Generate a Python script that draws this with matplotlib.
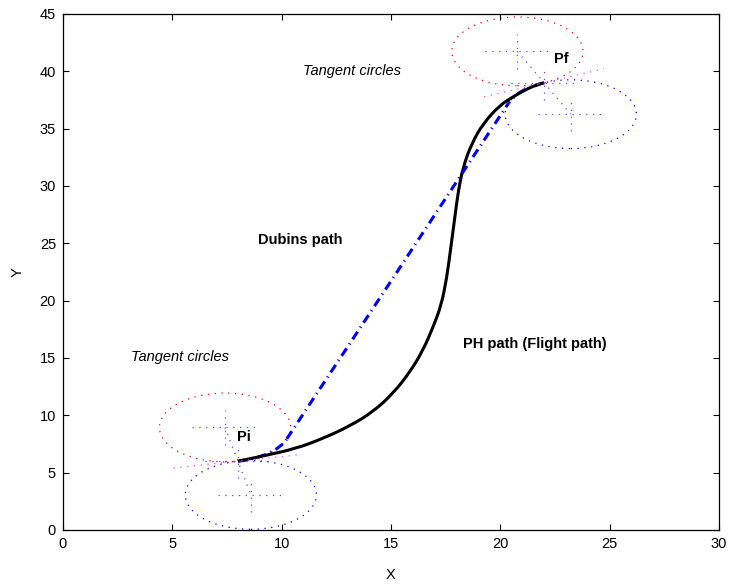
import numpy as np
import matplotlib
matplotlib.use('Agg')
import matplotlib.pyplot as plt
from matplotlib.patches import Circle, Arc, PathPatch
from matplotlib.path import Path

plt.rcParams['font.family'] = ['Liberation Sans', 'DejaVu Sans']
plt.rcParams['font.size'] = 10.5
plt.rcParams['lines.scale_dashes'] = False

# start / end poses of the flight
p_start = (8.0, 6.0)
p_end = (22.0, 39.0)
heading_start = 11.3   # deg
heading_end = 24.0     # deg
radius = 3.0

# turning circle centres (left-hand = red, right-hand = blue)
left_centres = [(7.41, 8.94), (20.78, 41.74)]
right_centres = [(8.59, 3.06), (23.22, 36.26)]

# Dubins path: tangent points of the straight leg
dubins_t1 = (10.24, 7.96)
dubins_t2 = (20.38, 37.24)

# PH path (flight path) control polygon
ph_x = [8.0, 9.16, 10.69, 11.90, 13.12, 14.19, 15.10, 15.87, 16.47, 16.93,
        17.30, 17.55, 17.72, 17.92, 18.08, 18.30, 18.69, 19.22, 19.98, 20.59,
        21.12, 21.60, 22.0]
ph_y = [6.0, 6.45, 7.12, 7.99, 9.07, 10.32, 11.92, 13.78, 15.69, 17.72,
        19.60, 22.0, 24.4, 27.3, 29.6, 31.67, 33.71, 35.46, 37.05, 37.78,
        38.36, 38.78, 39.0]

dot = (0, (0.9, 4.0))
dashdot = (0, (6.5, 3.5, 0.8, 3.5))

fig = plt.figure(figsize=(7.29, 5.84), dpi=100)
ax = fig.add_axes([0.0864, 0.0925, 0.8999, 0.8836])

# tangent circles
for c in left_centres:
    ax.add_patch(Circle(c, radius, fill=False, edgecolor='red', lw=0.9, ls=dot))
for c in right_centres:
    ax.add_patch(Circle(c, radius, fill=False, edgecolor='blue', lw=0.9, ls=dot))

# local frames at centres and end points
half = 1.5
for (cx, cy) in left_centres + right_centres + [p_start, p_end]:
    ax.plot([cx - half, cx + half], [cy, cy], color='#5050ff', lw=0.9, ls=dot)
    ax.plot([cx, cx], [cy - half, cy + half], color='#5050ff', lw=0.9, ls=dot)

# line through both centres, and heading line
for lc, rc, p, h in [(left_centres[0], right_centres[0], p_start, heading_start),
                     (left_centres[1], right_centres[1], p_end, heading_end)]:
    ax.plot([lc[0], rc[0]], [lc[1], rc[1]], color='#5050ff', lw=0.9, ls=dot)
    dx, dy = radius * np.cos(np.radians(h)), radius * np.sin(np.radians(h))
    ax.plot([p[0] - dx, p[0] + dx], [p[1] - dy, p[1] + dy],
            color='#ff40ff', lw=0.9, ls=dot)

# Dubins path: left turn, straight, right turn
c1, c2 = left_centres[0], right_centres[1]
a_start = np.degrees(np.arctan2(p_start[1] - c1[1], p_start[0] - c1[0]))
a_t1 = np.degrees(np.arctan2(dubins_t1[1] - c1[1], dubins_t1[0] - c1[0]))
a_t2 = np.degrees(np.arctan2(dubins_t2[1] - c2[1], dubins_t2[0] - c2[0]))
a_end = np.degrees(np.arctan2(p_end[1] - c2[1], p_end[0] - c2[0]))
ax.add_patch(Arc(c1, 2 * radius, 2 * radius, theta1=a_start, theta2=a_t1,
                 color='blue', lw=2.2, ls=dashdot))
ax.plot([dubins_t1[0], dubins_t2[0]], [dubins_t1[1], dubins_t2[1]],
        color='blue', lw=2.2, ls=dashdot)
ax.add_patch(Arc(c2, 2 * radius, 2 * radius, theta1=a_end, theta2=a_t2,
                 color='blue', lw=2.2, ls=dashdot))

# PH path, drawn as a smooth quadratic-Bezier chain through the samples
pts = list(zip(ph_x, ph_y))
verts = [pts[0]]
codes = [Path.MOVETO]
for i in range(1, len(pts) - 1):
    nxt = pts[i + 1] if i + 1 == len(pts) - 1 else \
        ((pts[i][0] + pts[i + 1][0]) / 2, (pts[i][1] + pts[i + 1][1]) / 2)
    verts += [pts[i], nxt]
    codes += [Path.CURVE3, Path.CURVE3]
ax.add_patch(PathPatch(Path(verts, codes), fill=False, edgecolor='black',
                       lw=2.2, capstyle='butt'))

# annotations
ax.text(7.96, 8.1, 'Pi', fontweight='bold', va='center')
ax.text(22.45, 41.06, 'Pf', fontweight='bold', va='center')
ax.text(10.97, 40.0, 'Tangent circles', style='italic', va='center')
ax.text(3.11, 15.1, 'Tangent circles', style='italic', va='center')
ax.text(8.92, 25.3, 'Dubins path', fontweight='bold', va='center')
ax.text(18.29, 16.2, 'PH path (Flight path)', fontweight='bold', va='center')

ax.set_xlim(0, 30)
ax.set_ylim(0, 45)
ax.set_xticks(range(0, 31, 5))
ax.set_yticks(range(0, 46, 5))
ax.tick_params(direction='in', top=True, right=True, length=4.5, width=0.8,
               pad=5)
ax.set_xlabel('X', labelpad=12)
ax.set_ylabel('Y', labelpad=11)
for s in ax.spines.values():
    s.set_linewidth(0.9)

fig.savefig('out.png', dpi=100)
